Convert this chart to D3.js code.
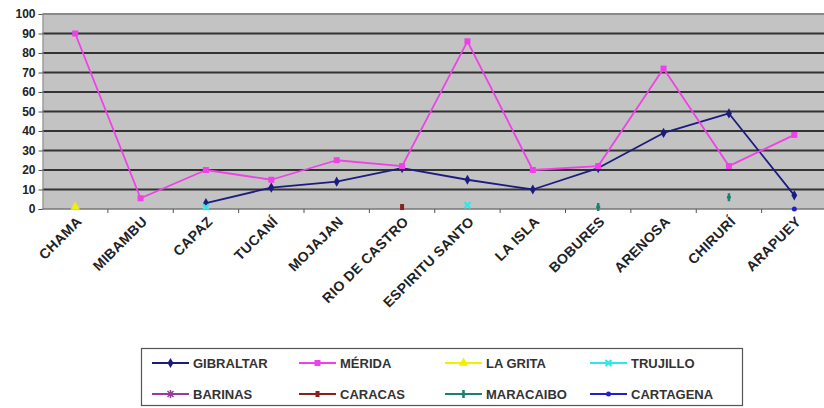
<!DOCTYPE html>
<html><head><meta charset="utf-8">
<script src="https://cdn.jsdelivr.net/npm/d3@7"></script>
<style>
html,body{margin:0;padding:0;background:#fff;}
svg{display:block;font-family:"Liberation Sans",Arial,sans-serif;}
</style></head>
<body><svg id="c" width="824" height="408"></svg>
<script>
const categories = ["CHAMA","MIBAMBU","CAPAZ","TUCANÍ","MOJAJAN","RIO DE CASTRO","ESPIRITU SANTO","LA ISLA","BOBURES","ARENOSA","CHIRURÍ","ARAPUEY"];
const yTicks = [0,10,20,30,40,50,60,70,80,90,100];
const gibraltar = [null,null,3,11,14,21,15,10,21,39,49,7];
const merida    = [90,5.5,20,15,25,22,86,20,22,72,22,38];
const laGrita   = [1,null,null,null,null,null,null,null,null,null,null,null];
const trujillo  = [null,null,1,null,null,null,2,null,null,null,null,null];
const barinas   = [null,null,null,null,null,null,null,null,null,null,null,null];
const caracas   = [null,null,null,null,null,1,null,null,null,null,null,null];
const maracaibo = [null,null,null,null,null,null,null,null,1,null,6,null];
const cartagena = [null,null,null,null,null,null,null,null,null,null,null,0];
const seriesNames = ["GIBRALTAR","MÉRIDA","LA GRITA","TRUJILLO","BARINAS","CARACAS","MARACAIBO","CARTAGENA"];

const series = [
  {name:seriesNames[0], values:gibraltar, color:"#1c1c80", marker:"diamond"},
  {name:seriesNames[1], values:merida,    color:"#f040e8", marker:"square"},
  {name:seriesNames[2], values:laGrita,   color:"#f0f000", marker:"triangle"},
  {name:seriesNames[3], values:trujillo,  color:"#30e8e8", marker:"x"},
  {name:seriesNames[4], values:barinas,   color:"#9a3a9a", marker:"star"},
  {name:seriesNames[5], values:caracas,   color:"#8a2020", marker:"circle"},
  {name:seriesNames[6], values:maracaibo, color:"#1a8070", marker:"plus"},
  {name:seriesNames[7], values:cartagena, color:"#2020d0", marker:"dot"}
];

const svg = d3.select("#c");
const L = 42.5, R = 827, T = 14, B = 209;
const x = d3.scalePoint().domain(categories).range([L, R]).padding(0.5);
const y = d3.scaleLinear().domain([0,100]).range([B, T]);

svg.append("rect").attr("x", L).attr("y", T).attr("width", R - L).attr("height", B - T).attr("fill", "#c3c3c3");

svg.append("g").selectAll("line").data(yTicks.filter(d => d > 0)).join("line")
  .attr("x1", L).attr("x2", R).attr("y1", d => y(d)).attr("y2", d => y(d))
  .attr("stroke", d => d === 100 ? "#8a8a8a" : "#333").attr("stroke-width", 1.8);

const yAxis = d3.axisLeft(y).tickValues(yTicks).tickSize(4).tickPadding(3);
const gy = svg.append("g").attr("transform", `translate(${L},0)`).call(yAxis);
gy.select(".domain").attr("stroke", "#888");
gy.selectAll(".tick line").attr("stroke", "#555");
gy.selectAll("text").attr("font-size", 12).attr("font-weight", "bold").attr("fill", "#222")
  .attr("font-family", "Liberation Sans, Arial, sans-serif");

const step = x.step();
svg.append("line").attr("x1", L).attr("x2", R).attr("y1", B).attr("y2", B).attr("stroke", "#777").attr("stroke-width", 1.5);
svg.append("g").selectAll("line").data(categories).join("line")
  .attr("x1", d => x(d) + step/2).attr("x2", d => x(d) + step/2)
  .attr("y1", B).attr("y2", B + 4).attr("stroke", "#555");

svg.append("g").selectAll("text").data(categories).join("text")
  .attr("transform", d => `translate(${x(d) + 4},${B + 10}) rotate(-45)`)
  .attr("text-anchor", "end").attr("dy", "0.35em")
  .attr("font-size", 14).attr("font-weight", "bold").attr("fill", "#222")
  .attr("letter-spacing", "0.3")
  .text(d => d);

function drawMarker(g, type, color, cx, cy) {
  if (type === "diamond") {
    g.append("path").attr("d", d3.symbol(d3.symbolDiamond, 30)()).attr("transform", `translate(${cx},${cy})`).attr("fill", color);
  } else if (type === "square") {
    g.append("rect").attr("x", cx - 3).attr("y", cy - 3).attr("width", 6).attr("height", 6).attr("fill", color);
  } else if (type === "triangle") {
    g.append("path").attr("d", d3.symbol(d3.symbolTriangle, 40)()).attr("transform", `translate(${cx},${cy})`).attr("fill", color);
  } else if (type === "x") {
    g.append("path").attr("d", `M${cx-3},${cy-3}L${cx+3},${cy+3}M${cx-3},${cy+3}L${cx+3},${cy-3}`).attr("stroke", color).attr("stroke-width", 2.2);
  } else if (type === "star") {
    g.append("path").attr("d", `M${cx-3},${cy-3}L${cx+3},${cy+3}M${cx-3},${cy+3}L${cx+3},${cy-3}M${cx},${cy-4}L${cx},${cy+4}`).attr("stroke", color).attr("stroke-width", 1.5);
  } else if (type === "circle") {
    g.append("rect").attr("x", cx - 2).attr("y", cy - 3).attr("width", 4).attr("height", 6).attr("fill", color);
  } else if (type === "plus") {
    g.append("path").attr("d", `M${cx},${cy-4}L${cx},${cy+4}M${cx-2},${cy}L${cx+2},${cy}`).attr("stroke", color).attr("stroke-width", 2.5);
  } else if (type === "dot") {
    g.append("circle").attr("cx", cx).attr("cy", cy).attr("r", 2.5).attr("fill", color);
  }
}

const line = d3.line().defined(d => d.v !== null).x(d => x(d.c)).y(d => y(d.v));
series.forEach(s => {
  const pts = categories.map((c, i) => ({c, v: s.values[i]}));
  const g = svg.append("g");
  g.append("path").datum(pts).attr("d", line).attr("fill", "none")
    .attr("stroke", s.color).attr("stroke-width", 1.8).attr("stroke-linejoin", "round");
  pts.filter(p => p.v !== null).forEach(p => drawMarker(g, s.marker, s.color, x(p.c), y(p.v)));
});

const lg = svg.append("g");
lg.append("rect").attr("x", 141.5).attr("y", 348.5).attr("width", 601).attr("height", 57)
  .attr("fill", "#fff").attr("stroke", "#555").attr("stroke-width", 1.2);
const colX = [152, 299, 445, 590];
const rowY = [363, 394];
series.forEach((s, i) => {
  const cx = colX[i % 4], cy = rowY[Math.floor(i / 4)];
  lg.append("line").attr("x1", cx).attr("x2", cx + 37).attr("y1", cy).attr("y2", cy)
    .attr("stroke", s.color).attr("stroke-width", 2);
  drawMarker(lg, s.marker, s.color, cx + 18.5, cy);
  lg.append("text").attr("x", cx + 41).attr("y", cy).attr("dy", "0.36em")
    .attr("font-size", 13).attr("font-weight", "bold").attr("fill", "#333").text(s.name);
});
</script>
</body></html>
